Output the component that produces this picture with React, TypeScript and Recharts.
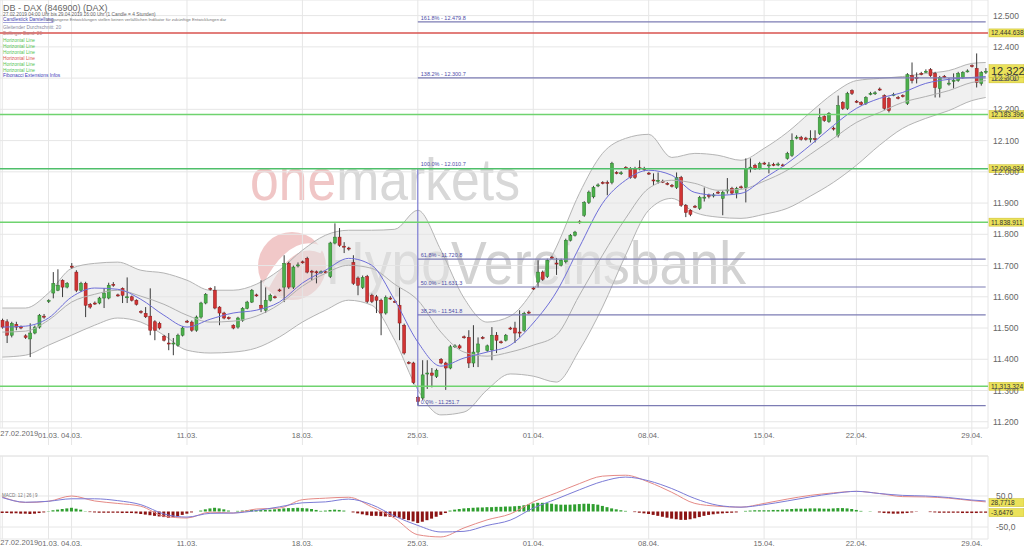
import React from 'react'
import {
  Area,
  Bar,
  CartesianGrid,
  Cell,
  ComposedChart,
  Line,
  ReferenceLine,
  XAxis,
  YAxis,
} from 'recharts'

// 4h candles [open, high, low, close], grouped by trading week
const weekFeb = [
  [11525, 11530, 11498, 11503], [11520, 11528, 11452, 11477], [11477, 11520, 11470, 11515],
  [11512, 11520, 11493, 11503], [11505, 11508, 11496, 11500], [11475, 11480, 11465, 11470],
  [11465, 11515, 11407, 11484], [11484, 11508, 11480, 11503], [11503, 11545, 11498, 11541],
  [11538, 11545, 11530, 11536], [11585, 11592, 11580, 11588], [11612, 11679, 11595, 11643],
  [11621, 11688, 11618, 11637], [11653, 11656, 11599, 11631], [11631, 11647, 11627, 11643],
]
const weekMar04 = [
  [11698, 11708, 11690, 11695], [11679, 11685, 11615, 11621], [11621, 11648, 11615, 11643],
  [11643, 11648, 11535, 11573], [11576, 11580, 11562, 11567], [11580, 11585, 11574, 11579],
  [11580, 11600, 11576, 11596], [11596, 11628, 11564, 11612], [11596, 11645, 11592, 11637],
  [11640, 11647, 11632, 11637], [11606, 11610, 11600, 11603], [11627, 11630, 11580, 11605],
  [11598, 11662, 11580, 11600], [11600, 11604, 11585, 11589], [11589, 11592, 11572, 11576],
  [11553, 11557, 11546, 11550], [11547, 11567, 11532, 11536], [11538, 11627, 11477, 11493],
  [11520, 11525, 11461, 11493], [11515, 11520, 11495, 11500], [11474, 11478, 11457, 11461],
  [11452, 11484, 11429, 11450], [11450, 11468, 11413, 11452], [11445, 11482, 11440, 11477],
  [11477, 11505, 11473, 11500],
]
const weekMar11 = [
  [11522, 11526, 11516, 11520], [11519, 11524, 11488, 11493], [11493, 11540, 11488, 11535],
  [11535, 11584, 11530, 11580], [11580, 11612, 11576, 11608], [11627, 11630, 11620, 11625],
  [11621, 11634, 11560, 11564], [11567, 11570, 11509, 11548], [11548, 11552, 11528, 11532],
  [11533, 11537, 11527, 11531], [11509, 11512, 11496, 11500], [11503, 11536, 11498, 11532],
  [11525, 11567, 11520, 11563], [11563, 11587, 11560, 11583], [11583, 11625, 11580, 11621],
  [11606, 11610, 11600, 11604], [11573, 11653, 11551, 11563], [11557, 11630, 11548, 11589],
  [11589, 11610, 11585, 11605], [11600, 11604, 11594, 11598], [11622, 11626, 11616, 11620],
  [11631, 11733, 11583, 11707], [11707, 11712, 11625, 11631], [11631, 11700, 11625, 11695],
  [11700, 11710, 11694, 11702],
]
const weekMar18 = [
  [11712, 11716, 11706, 11710], [11723, 11728, 11675, 11679], [11682, 11686, 11653, 11680],
  [11680, 11684, 11643, 11678], [11678, 11684, 11674, 11680], [11680, 11684, 11674, 11678],
  [11665, 11776, 11660, 11772], [11772, 11835, 11768, 11791], [11791, 11820, 11760, 11765],
  [11762, 11775, 11740, 11760], [11756, 11760, 11748, 11755], [11710, 11733, 11638, 11643],
  [11660, 11665, 11605, 11637], [11630, 11668, 11625, 11662], [11665, 11670, 11580, 11585],
  [11605, 11610, 11580, 11585], [11600, 11606, 11548, 11589], [11589, 11594, 11477, 11548],
  [11548, 11604, 11543, 11598], [11596, 11602, 11590, 11595], [11585, 11590, 11580, 11584],
  [11573, 11630, 11461, 11516], [11509, 11514, 11415, 11420], [11390, 11394, 11384, 11388],
  [11388, 11392, 11320, 11325],
]
const weekMar25 = [
  [11278, 11283, 11252, 11265], [11276, 11397, 11270, 11350], [11354, 11397, 11305, 11356],
  [11356, 11372, 11310, 11349], [11345, 11370, 11340, 11365], [11400, 11404, 11384, 11388],
  [11388, 11392, 11302, 11372], [11372, 11446, 11368, 11440], [11442, 11448, 11436, 11443],
  [11443, 11448, 11432, 11436], [11472, 11476, 11466, 11470], [11470, 11493, 11372, 11388],
  [11388, 11509, 11375, 11423], [11423, 11470, 11375, 11449], [11470, 11474, 11464, 11468],
  [11428, 11447, 11424, 11443], [11430, 11503, 11397, 11477], [11477, 11487, 11420, 11461],
  [11456, 11460, 11450, 11455], [11461, 11481, 11457, 11477], [11500, 11504, 11494, 11498],
  [11500, 11520, 11452, 11484], [11487, 11557, 11470, 11485], [11493, 11552, 11488, 11547],
  [11551, 11556, 11545, 11550],
]
const weekApr01 = [
  [11628, 11632, 11622, 11627], [11647, 11717, 11630, 11679], [11679, 11684, 11651, 11656],
  [11665, 11722, 11660, 11717], [11727, 11731, 11721, 11725], [11708, 11724, 11670, 11707],
  [11701, 11722, 11697, 11717], [11712, 11786, 11707, 11781], [11781, 11801, 11777, 11797],
  [11797, 11811, 11793, 11807], [11840, 11845, 11834, 11838], [11861, 11906, 11856, 11902],
  [11902, 11940, 11897, 11935], [11920, 11955, 11915, 11950], [11957, 11963, 11951, 11958],
  [11966, 11970, 11960, 11965], [11966, 11972, 11925, 11964], [11966, 12032, 11960, 12027],
  [11998, 12002, 11992, 11996], [11996, 12002, 11990, 11997], [12014, 12018, 12008, 12012],
  [12011, 12015, 11978, 11982], [12011, 12016, 11977, 11982], [12013, 12037, 12005, 12012],
  [12010, 12016, 12002, 12008],
]
const weekApr08 = [
  [11996, 12000, 11990, 11994], [11974, 11995, 11957, 11972], [11972, 11998, 11962, 11973],
  [11970, 11975, 11964, 11969], [11963, 11967, 11957, 11961], [11957, 11961, 11950, 11955],
  [11950, 11998, 11945, 11982], [11982, 11987, 11888, 11893], [11893, 11897, 11855, 11870],
  [11877, 11880, 11858, 11864], [11890, 11894, 11884, 11888], [11883, 11923, 11878, 11918],
  [11918, 11950, 11905, 11919], [11925, 11930, 11915, 11924], [11924, 11932, 11918, 11926],
  [11935, 11939, 11929, 11933], [11915, 11940, 11861, 11934], [11940, 11980, 11930, 11942],
  [11947, 11952, 11928, 11932], [11932, 11952, 11915, 11947], [11952, 11956, 11946, 11950],
  [11950, 12043, 11902, 12011], [12014, 12043, 11998, 12015], [12021, 12026, 12006, 12011],
  [12011, 12032, 12007, 12027],
]
const weekApr15 = [
  [12028, 12032, 12022, 12027], [12021, 12031, 11995, 12022], [12024, 12029, 12018, 12023],
  [12023, 12030, 12018, 12025], [12022, 12026, 12016, 12020], [12043, 12064, 12039, 12059],
  [12053, 12123, 12048, 12101], [12110, 12117, 12104, 12111], [12110, 12115, 12100, 12104],
  [12108, 12112, 12100, 12104], [12106, 12133, 12094, 12107], [12106, 12133, 12094, 12105],
  [12123, 12203, 12118, 12174], [12177, 12181, 12160, 12164], [12161, 12191, 12157, 12187],
  [12140, 12145, 12132, 12138], [12117, 12244, 12110, 12212], [12222, 12226, 12198, 12203],
  [12203, 12256, 12198, 12251], [12260, 12264, 12246, 12251],
]
const weekApr22 = [
  [12226, 12230, 12220, 12224], [12222, 12226, 12212, 12216], [12219, 12242, 12214, 12238],
  [12250, 12256, 12245, 12251], [12251, 12258, 12246, 12253], [12265, 12270, 12259, 12263],
  [12244, 12248, 12198, 12203], [12235, 12240, 12190, 12196], [12247, 12253, 12242, 12248],
  [12238, 12243, 12232, 12237], [12244, 12248, 12238, 12242], [12219, 12316, 12214, 12311],
  [12308, 12350, 12283, 12292], [12302, 12318, 12283, 12301], [12315, 12320, 12309, 12313],
  [12321, 12328, 12316, 12322], [12327, 12332, 12304, 12308], [12315, 12320, 12238, 12270],
  [12267, 12307, 12238, 12302], [12306, 12310, 12300, 12305], [12283, 12300, 12276, 12284],
  [12292, 12315, 12267, 12293], [12292, 12320, 12288, 12315], [12302, 12322, 12298, 12318],
  [12322, 12328, 12318, 12323],
]
const weekApr29 = [
  [12340, 12344, 12334, 12338], [12331, 12379, 12270, 12286], [12283, 12322, 12276, 12318],
  [12322, 12332, 12313, 12322],
]

const candles = [
  ...weekFeb, ...weekMar04, ...weekMar11, ...weekMar18, ...weekMar25,
  ...weekApr01, ...weekApr08, ...weekApr15, ...weekApr22, ...weekApr29,
]

// MACD histogram, one value per candle
const macdHist = [
  -5, -5, -6, -6, -7, -7, -8, -7, -5, -3, 1, 4, 6, 8, 10,
  12, 9, 6, 1, -2, -3, -4, -4, -4, -4, -4, -5, -5, -5, -6, -8, -10, -12, -14, -16, -18, -20, -18, -15, -11,
  -7, -3, 0, 3, 7, 10, 12, 10, 7, 3, 0, 2, 3, 4, 5, 5, 5, 5, 6, 7, 8, 10, 11, 11, 12,
  11, 10, 8, 5, 2, 3, 5, 6, 5, 3, 0, -3, -6, -9, -12, -14, -14, -15, -16, -17, -18, -20, -24, -28, -32,
  -37, -33, -28, -23, -17, -11, -5, 3, 6, 8, 10, 11, 12, 13, 13, 14, 14, 15, 15, 16, 16, 17, 18, 20, 23,
  26, 28, 28, 27, 25, 23, 22, 22, 22, 23, 24, 25, 25, 24, 22, 18, 14, 10, 7, 4, 2, 0, -2, -4, -6,
  -8, -11, -14, -17, -20, -23, -25, -27, -27, -25, -22, -18, -14, -11, -9, -7, -6, -5, -4, -3, 0, 2, 3, 4, 4,
  4, 4, 5, 5, 6, 7, 8, 9, 9, 9, 10, 10, 10, 9, 9, 10, 11, 11, 10, 8,
  5, 2, 0, 1, 0, -3, -5, -6, -7, -7, -6, -5, -3, -1, 0, 0, -2, -3, -4, -4, -4, -4, -4, -5, -5,
  -5, -5, -4, -4,
]

// indicator readings, taken every 5th candle
const indicatorIdx = [
  0, 5, 10, 15, 20, 25, 30, 35, 40, 45, 50, 55, 60, 65, 70, 75, 80, 85, 90, 95, 100, 105,
  110, 115, 120, 125, 130, 135, 140, 145, 150, 155, 160, 165, 170, 175, 180, 185, 190, 195, 200, 205, 210, 213,
]
const bbUpper = [
  11564, 11564, 11612, 11691, 11707, 11711, 11685, 11676, 11653, 11621, 11621, 11640, 11685, 11749, 11797,
  11813, 11813, 11816, 11877, 11749, 11596, 11519, 11538, 11621, 11759, 11931, 12059, 12107, 12120, 12046,
  12059, 12053, 12037, 12075, 12126, 12190, 12251, 12292, 12299, 12305, 12315, 12324, 12347, 12350,
]
const bbLower = [
  11407, 11413, 11445, 11477, 11509, 11532, 11519, 11477, 11429, 11420, 11423, 11436, 11471, 11519, 11557,
  11589, 11573, 11461, 11302, 11222, 11231, 11302, 11353, 11346, 11327, 11429, 11567, 11733, 11877, 11915,
  11870, 11855, 11851, 11864, 11883, 11922, 11966, 12021, 12085, 12139, 12171, 12196, 12228, 12238,
]
const bbMiddle = [
  11487, 11490, 11525, 11583, 11608, 11621, 11602, 11576, 11541, 11519, 11522, 11538, 11576, 11634, 11675,
  11701, 11691, 11640, 11589, 11487, 11423, 11410, 11423, 11445, 11477, 11605, 11733, 11851, 11947, 11973,
  11963, 11941, 11944, 11970, 12005, 12056, 12107, 12158, 12190, 12222, 12241, 12260, 12286, 12292,
]
const movingAvg = [
  11503, 11506, 11532, 11599, 11628, 11624, 11592, 11541, 11503, 11528, 11548, 11557, 11583, 11644, 11685,
  11723, 11701, 11589, 11455, 11378, 11404, 11423, 11445, 11516, 11615, 11759, 11899, 11973, 12005, 11989,
  11934, 11925, 11931, 11979, 12027, 12085, 12148, 12203, 12235, 12254, 12283, 12296, 12302, 12305,
]
const macdLine = [
  47, 29, 33, 50, 34, 26, 17, -15, -21, -2, -5, 8, 11, 38, 43, 46, 15, -22, -75, -82, -53, -27,
  -8, 31, 60, 90, 114, 117, 95, 62, 26, 17, 14, 26, 40, 52, 60, 65, 58, 48, 47, 43, 35, 31,
]
const signalLine = [
  45, 30, 33, 41, 41, 35, 22, -8, -18, -6, -5, 3, 15, 28, 31, 40, 22, -15, -45, -66, -64, -45,
  -28, 11, 40, 70, 97, 111, 99, 74, 42, 20, 14, 22, 34, 47, 58, 65, 58, 52, 50, 45, 37, 34,
]

const dateTicks = [0, 10, 15, 40, 65, 90, 115, 140, 165, 185, 210]
const dateLabels = ['27.02.2019', '01.03.', '04.03.', '11.03.', '18.03.', '25.03.', '01.04.', '08.04.', '15.04.', '22.04.', '29.04.']
const priceTicks = [11200, 11300, 11400, 11500, 11600, 11700, 11800, 11900, 12000, 12100, 12200, 12300, 12400, 12500]

const horizontalLines = [
  { value: 12444.638, tag: '12.444.638', color: '#d9534f' },
  { value: 12183.396, tag: '12.183.396', color: '#6fd36f' },
  { value: 12009.934, tag: '12.009.934', color: '#4fbf6a' },
  { value: 11838.911, tag: '11.838.911', color: '#6fd36f' },
  { value: 11313.324, tag: '11.313.324', color: '#6fd36f' },
]
const fibLevels = [
  { value: 12479.8, text: '161.8% - 12.479.8' },
  { value: 12300.7, text: '138.2% - 12.300.7' },
  { value: 12010.7, text: '100.0% - 12.010.7' },
  { value: 11720.8, text: '61.8% - 11.720.8' },
  { value: 11631.3, text: '50.0% - 11.631.3' },
  { value: 11541.8, text: '38.2% - 11.541.8' },
  { value: 11251.7, text: '0.0% - 11.251.7' },
]
const fibStart = 90
const fibEnd = 213

const legendRows = [
  { text: 'Horizontal Line', color: '#55c455' },
  { text: 'Horizontal Line', color: '#55c455' },
  { text: 'Horizontal Line', color: '#55c455' },
  { text: 'Horizontal Line', color: '#d9534f' },
  { text: 'Horizontal Line', color: '#55c455' },
  { text: 'Horizontal Line', color: '#55c455' },
]

const FONT = '"Liberation Sans", Arial, sans-serif'
const GRID = '#e6e6e6'
const UP = '#4cb04c'
const DOWN = '#d23434'

const rows = candles.map(([o, h, l, c], i) => ({
  i,
  o,
  h,
  l,
  c,
  range: [l, h],
  hist: macdHist[i],
  band: [null, null] as (number | null)[],
  mid: undefined as number | undefined,
  ma: undefined as number | undefined,
  macd: undefined as number | undefined,
  signal: undefined as number | undefined,
}))
indicatorIdx.forEach((idx, k) => {
  const r = rows[idx]
  r.band = [bbLower[k], bbUpper[k]]
  r.mid = bbMiddle[k]
  r.ma = movingAvg[k]
  r.macd = macdLine[k]
  r.signal = signalLine[k]
})

function Candle(props: any) {
  const { x, y, width, height, payload } = props
  if (x == null || y == null) return null
  const top = Math.min(y, y + height)
  const span = Math.abs(height)
  const { o, h, l, c } = payload
  const py = (v: number) => top + ((h - v) / (h - l || 1)) * span
  const cx = x + width / 2
  const up = c >= o
  const b1 = py(Math.max(o, c))
  const b2 = py(Math.min(o, c))
  return (
    <g>
      <line x1={cx} x2={cx} y1={top} y2={top + span} stroke="#3a3a3a" strokeWidth={1} />
      <rect
        x={x}
        y={b1}
        width={width}
        height={Math.max(1, b2 - b1)}
        fill={up ? UP : DOWN}
        stroke={up ? '#2b7a2b' : '#8a1a1a'}
        strokeWidth={0.5}
      />
    </g>
  )
}

function DateTick(props: any) {
  const { x, y, payload, dy, bridge } = props
  const k = dateTicks.indexOf(payload.value)
  const first = k === 0
  return (
    <g>
      {bridge && !first && <line x1={x} x2={x} y1={y - 2} y2={y + 27} stroke={GRID} />}
      <text
        x={first ? x - 2 : x}
        y={y + dy - (first ? 1.5 : 0)}
        textAnchor={first ? 'start' : 'middle'}
        fontSize={7.6}
        fontFamily={FONT}
        fill="#6a6a6a"
      >
        {dateLabels[k]}
      </text>
    </g>
  )
}

function PriceTag(props: any) {
  const { viewBox, text, big } = props
  if (!viewBox) return null
  const x = viewBox.x + viewBox.width + 1
  const h = big ? 13 : 8
  return (
    <g>
      <rect x={x} y={viewBox.y - h / 2} width={35} height={h} fill="#ebe25a" stroke="#c8bb2a" strokeWidth={0.5} />
      <text x={x + 2} y={viewBox.y + (big ? 4 : 2.5)} fontSize={big ? 11 : 6.5} fontFamily={FONT} fill="#333">
        {text}
      </text>
    </g>
  )
}

function FibLabel(props: any) {
  const { viewBox, text } = props
  if (!viewBox) return null
  return (
    <text x={viewBox.x + 3} y={viewBox.y - 2} fontSize={5.5} fontFamily={FONT} fill="#4d4da8">
      {text}
    </text>
  )
}

export default function App() {
  return (
    <div style={{ position: 'absolute', left: 0, top: 0, width: 1024, height: 548, background: '#fff', overflow: 'hidden', fontFamily: FONT }}>
      {/* watermark */}
      <svg width={1024} height={548} style={{ position: 'absolute', left: 0, top: 0 }}>
        <text x={250} y={200} fontSize={60} fontFamily={FONT} textLength={270} lengthAdjust="spacingAndGlyphs">
          <tspan fill="#f0c6c6">one</tspan>
          <tspan fill="#d8d8d8">markets</tspan>
        </text>
        <circle cx={292} cy={266} r={34} fill="#f1c8c8" />
        <path d="M266 286 Q292 236 322 250" stroke="#fff" strokeWidth={7} fill="none" />
        <text x={326} y={284} fontSize={62} fontFamily={FONT} fill="#d2d2d2" textLength={420} lengthAdjust="spacingAndGlyphs">
          HypoVereinsbank
        </text>
      </svg>

      <div style={{ position: 'absolute', left: 0, top: 0 }}>
        <ComposedChart width={1024} height={445} data={rows} margin={{ top: 0, right: 0, bottom: 0, left: 0 }} barCategoryGap="22%">
          <CartesianGrid stroke={GRID} />
          <XAxis
            dataKey="i"
            type="category"
            ticks={dateTicks}
            interval={0}
            height={17}
            tickSize={0}
            tickMargin={2}
            axisLine={false}
            tickLine={false}
            tick={<DateTick dy={7.5} bridge />}
          />
          <YAxis
            orientation="right"
            width={36}
            domain={[11180, 12550]}
            allowDataOverflow
            ticks={priceTicks}
            tickFormatter={(v: number) => (v / 1000).toFixed(3)}
            tickSize={0}
            tickMargin={5}
            axisLine={false}
            tickLine={false}
            tick={{ fontSize: 8.5, fill: '#666', fontFamily: FONT, textAnchor: 'start' }}
          />
          <Area
            dataKey="band"
            type="monotone"
            stroke="#b4b4b4"
            strokeWidth={1}
            fill="#e4e4e4"
            fillOpacity={0.55}
            dot={false}
            activeDot={false}
            connectNulls
            isAnimationActive={false}
          />
          <Line dataKey="mid" type="monotone" stroke="#b0b0b0" strokeWidth={1} dot={false} activeDot={false} connectNulls isAnimationActive={false} />
          <Line dataKey="ma" type="monotone" stroke="#6e6ed8" strokeWidth={1} dot={false} activeDot={false} connectNulls isAnimationActive={false} />
          {fibLevels.map((f) => (
            <ReferenceLine
              key={f.text}
              segment={[{ x: fibStart, y: f.value }, { x: fibEnd, y: f.value }]}
              stroke="#7c7cb4"
              strokeWidth={1.2}
              label={<FibLabel text={f.text} />}
            />
          ))}
          <ReferenceLine
            segment={[{ x: fibStart, y: fibLevels[6].value }, { x: fibStart, y: fibLevels[2].value }]}
            stroke="#6a6ad0"
            strokeWidth={1}
          />
          {horizontalLines.map((hl) => (
            <ReferenceLine
              key={hl.tag}
              y={hl.value}
              stroke={hl.color}
              strokeWidth={1.5}
              label={<PriceTag text={hl.tag} />}
            />
          ))}
          <Bar dataKey="range" shape={(p: any) => <Candle {...p} />} isAnimationActive={false} />
          <ReferenceLine y={12297.6} stroke="none" label={<PriceTag text="12.297.6" />} />
          <ReferenceLine y={12322} stroke="none" label={<PriceTag text="12.322" big />} />
        </ComposedChart>
      </div>

      <div style={{ position: 'absolute', left: 0, top: 446 }}>
        <ComposedChart width={1024} height={102} data={rows} margin={{ top: 10, right: 0, bottom: 0, left: 0 }} barCategoryGap="15%">
          <CartesianGrid stroke={GRID} />
          <XAxis
            dataKey="i"
            type="category"
            ticks={dateTicks}
            interval={0}
            height={9}
            tickSize={0}
            tickMargin={0}
            axisLine={false}
            tickLine={false}
            tick={<DateTick dy={7} />}
          />
          <YAxis
            orientation="right"
            width={36}
            domain={[-88.7, 179]}
            allowDataOverflow
            ticks={[-50, 50]}
            tickFormatter={(v: number) => v.toFixed(1).replace('.', ',')}
            tickSize={0}
            tickMargin={8}
            axisLine={false}
            tickLine={false}
            tick={{ fontSize: 8.5, fill: '#666', fontFamily: FONT, textAnchor: 'start' }}
          />
          <ReferenceLine y={179} stroke={GRID} />
          <Bar dataKey="hist" isAnimationActive={false}>
            {rows.map((r) => (
              <Cell key={r.i} fill={r.hist >= 0 ? '#2f9e2f' : '#8c1414'} />
            ))}
          </Bar>
          <Line dataKey="macd" type="monotone" stroke="#e58a86" strokeWidth={1} dot={false} activeDot={false} connectNulls isAnimationActive={false} />
          <Line dataKey="signal" type="monotone" stroke="#7b7bd6" strokeWidth={1} dot={false} activeDot={false} connectNulls isAnimationActive={false} />
          <ReferenceLine y={28.7718} stroke="none" label={<PriceTag text="28,7718" />} />
          <ReferenceLine y={-3.6476} stroke="none" label={<PriceTag text="-3,6476" />} />
        </ComposedChart>
      </div>

      {/* legend */}
      <svg width={300} height={80} style={{ position: 'absolute', left: 0, top: 0, pointerEvents: 'none' }}>
        <text x={3} y={11} fontSize={9} fontFamily={FONT} fill="#666">DB - DAX (846900) (DAX)</text>
        <text x={3} y={15.5} fontSize={4.8} fontFamily={FONT} fill="#666">
          27.02.2019 04:00 Uhr bis 29.04.2019 16:00 Uhr (1 Candle = 4 Stunden)
        </text>
        <text x={3} y={21} fontSize={4.8} fontFamily={FONT} fill="#4444b0" textDecoration="underline">
          Candlestick Darstellung
        </text>
        <text x={46} y={21} fontSize={4.2} fontFamily={FONT} fill="#777">
          Vergangene Entwicklungen stellen keinen verläßlichen Indikator für zukünftige Entwicklungen dar
        </text>
        <text x={3} y={28.5} fontSize={4.8} fontFamily={FONT} fill="#8a8aa0">Gleitender Durchschnitt: 20</text>
        <text x={3} y={34.5} fontSize={4.8} fontFamily={FONT} fill="#c07a7a">Bollinger Band: 20</text>
        {legendRows.map((r, k) => (
          <text key={k} x={3} y={41.5 + k * 6} fontSize={4.8} fontFamily={FONT} fill={r.color}>
            {r.text}
          </text>
        ))}
        <text x={3} y={77} fontSize={4.8} fontFamily={FONT} fill="#3d3db8">Fibonacci Extensions Infos</text>
      </svg>

      <svg width={60} height={10} style={{ position: 'absolute', left: 0, top: 491, pointerEvents: 'none' }}>
        <text x={2} y={6} fontSize={4.5} fontFamily={FONT} fill="#777">MACD: 12 | 26 | 9</text>
      </svg>
    </div>
  )
}
